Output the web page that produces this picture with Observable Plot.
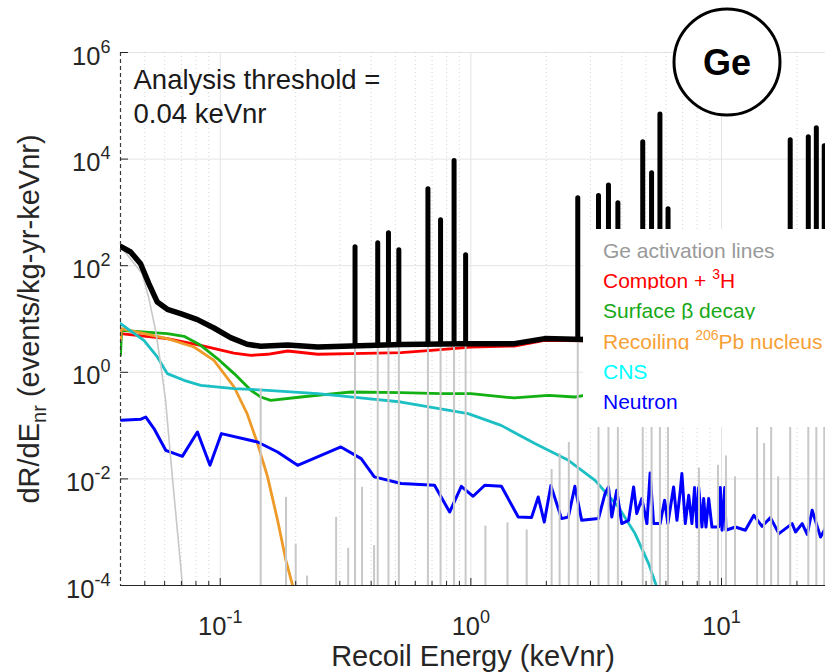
<!DOCTYPE html>
<html><head><meta charset="utf-8">
<script src="https://cdn.jsdelivr.net/npm/d3@7"></script>
<script src="https://cdn.jsdelivr.net/npm/@observablehq/plot@0.6"></script>
<style>
body{margin:0;background:#fff;}
#chart{position:relative;width:825px;height:672px;overflow:hidden;}
</style></head><body><div id="chart"></div>
<script>
// ---------- data (energies in keVnr, rates in events/kg-yr-keVnr) ----------
const totalE = [0.04,0.0439,0.0481,0.0519,0.0561,0.0615,0.0695,0.0811,0.0944,0.110,0.128,0.145,0.186,0.245,0.333,0.527,0.942,1.49,1.97,2.85,5.0,10,26];
const totalV = [230,181,109,46,20.8,15.2,12.6,9.75,6.78,4.48,3.35,3.07,3.25,2.98,3.11,3.31,3.45,3.45,4.29,4.11,4.1,4.0,4.0];

const comptonE = [0.04,0.0615,0.0836,0.1133,0.1325,0.1545,0.186,0.245,0.333,0.527,0.695,1.0,1.49,1.97,2.85,5,10,26];
const comptonV = [5.32,4.29,3.21,2.30,2.08,2.18,2.51,2.18,2.24,2.34,2.59,2.98,3.11,3.98,3.87,3.9,3.9,3.9];

const surfaceE = [0.04,0.0404,0.0615,0.0717,0.0836,0.0974,0.1136,0.1325,0.145,0.159,0.210,0.284,0.333,0.527,0.762,1.0,1.49,2.04,2.6,2.85];
const surfaceV = [2.1,6.14,5.32,4.74,3.21,1.81,0.945,0.46,0.344,0.298,0.344,0.398,0.427,0.416,0.398,0.398,0.33,0.37,0.344,0.37];

const pbE = [0.04,0.0403,0.0615,0.0786,0.0944,0.1136,0.128,0.1409,0.1545,0.1694,0.1828,0.1945,0.205];
const pbV = [4.0,6.6,4.29,2.98,1.68,0.53,0.168,0.046,0.0109,0.00167,2.97e-4,1e-4,3e-5];

const cnsE = [0.04,0.0496,0.0561,0.0615,0.0717,0.0836,0.1136,0.1545,0.245,0.388,0.527,0.975,1.32,1.80,2.45,3.13,3.88,4.52,5.12,5.47,5.7];
const cnsV = [8.2,3.98,1.94,0.945,0.708,0.57,0.494,0.46,0.398,0.321,0.277,0.168,0.101,0.046,0.0223,0.0094,0.00297,9.4e-4,2.58e-4,1.05e-4,4e-5];

const neutronE = [0.0403,0.0481,0.0504,0.0544,0.0606,0.0706,0.0811,0.0910,0.1011,0.1409,0.1694,0.2036,0.303,0.365,0.412,0.527,0.716,0.823,0.916,1.021,1.136,1.324,1.545,1.746,1.857,1.963,2.086,2.30,2.449,2.60,2.767,3.23,3.43,3.54,3.65,3.82,4.0,4.26,4.46,4.59,4.81,5.04,5.19,5.36,5.69,5.93,6.11,6.44,6.64,6.85,6.95,7.17,7.40,7.62,7.81,7.98,8.11,8.36,8.49,8.67,8.89,9.16,9.75,9.89,10.05,10.3,10.42,11.36,12.45,13.46,14.52,15.68,16.94,19.14,19.74,20.99,21.98,23.0,24.85,26.4];
const neutronV = [0.126,0.131,0.145,0.0879,0.0344,0.0265,0.0759,0.018,0.0708,0.0492,0.032,0.018,0.0397,0.024,0.0109,0.00817,0.00759,0.00239,0.00726,0.00472,0.00759,0.00726,0.00193,0.00188,0.00457,0.00155,0.00749,0.0018,0.00193,0.00726,0.00167,0.0018,0.0053,0.00705,0.00193,0.00611,0.00145,0.00167,0.00705,0.00223,0.00427,0.00145,0.0129,0.00145,0.00145,0.00397,0.00145,0.00705,0.00167,0.00611,0.0126,0.00145,0.00492,0.00145,0.00687,0.00125,0.00687,0.00125,0.00427,0.00125,0.00427,0.00125,0.00125,0.00687,0.00109,0.00687,0.00109,0.00125,0.00109,0.00207,0.00129,0.00188,0.00094,0.00145,0.00101,0.00145,0.00091,0.00258,0.00081,0.00135];

// low-energy continuum of the Ge activation lines
const grayTailE = [0.04,0.0488,0.0518,0.0552,0.0578,0.0605,0.0646,0.0707,0.075];
const grayTailV = [231,71,25.5,6.1,1.48,0.30,0.0094,1e-4,1e-5];

// Ge activation line energies and peak rates
const lineE = [0.145,0.183,0.200,0.222,0.290,0.324,0.345,0.368,0.411,0.425,0.469,0.516,0.674,0.757,0.857,0.953,1.143,1.40,1.67,2.10,2.26,2.46,2.67,3.23,3.54,3.86,4.85,5.26,5.68,6.12,8.13,9.68,10.42,11.32,13.87,14.79,15.78,16.83,18.8,22.2,23.9,25.7];
const lineV = [0.5,0.0045,6e-4,1.5e-4,0.0019,5e-4,221,0.007,5.6e-4,263,407,195,2710,711,9200,157,0.0013,0.0015,0.0011,0.015,0.03,0.048,1840,2040,3190,1480,20600,5400,69000,1140,0.016,0.018,0.027,0.011,3,0.046,2,0.011,22500,25700,38000,17400];

const xMajor = [0.1, 1, 10];
const xMinor = [0.05,0.06,0.07,0.08,0.09,0.2,0.3,0.4,0.5,0.6,0.7,0.8,0.9,2,3,4,5,6,7,8,9,20];
const yMajor = [1e-4, 1e-2, 1, 1e2, 1e4, 1e6];
const threshold = [0.04];

const legendLabels = ["Ge activation lines", "Compton + ^3H", "Surface β decay", "Recoiling ^206Pb nucleus", "CNS", "Neutron"];
const legendColors = ["#999999", "#ff0000", "#18a818", "#f7a035", "#00ffff", "#0000ff"];

// ---------- build ----------
const rows = (E, V) => E.map((e, i) => ({E: e, V: V[i]}));
function logInterp(xs, ys, x) {
  const lx = Math.log10(x);
  for (let i = 0; i < xs.length - 1; i++) {
    const a = Math.log10(xs[i]), b = Math.log10(xs[i + 1]);
    if (lx >= a && lx <= b) {
      const t = (lx - a) / (b - a);
      return Math.pow(10, Math.log10(ys[i]) * (1 - t) + Math.log10(ys[i + 1]) * t);
    }
  }
  return ys[ys.length - 1];
}
const spikes = rows(lineE, lineV);
const blackSpikes = spikes
  .map(d => ({...d, base: logInterp(totalE, totalV, d.E)}))
  .filter(d => d.V > d.base * 1.5);

const FONT = "'Liberation Sans', Arial, Helvetica, sans-serif";
const lw = 2.8;
const fmt = d => "10^" + Math.round(Math.log10(d));

const plot = Plot.plot({
  width: 825, height: 672,
  marginLeft: 120, marginRight: 0, marginTop: 52, marginBottom: 87,
  style: {fontFamily: FONT, background: "white", color: "#262626", overflow: "visible"},
  x: {type: "log", domain: [0.04, 26]},
  y: {type: "log", domain: [1e-4, 1e6]},
  marks: [
    Plot.ruleY(yMajor, {stroke: "#e4e4e4", strokeWidth: 1}),
    Plot.ruleX(xMajor, {stroke: "#e4e4e4", strokeWidth: 1}),
    Plot.ruleX(xMinor, {stroke: "#c8c8c8", strokeWidth: 0.8, strokeDasharray: "1,3"}),
    Plot.line(rows(comptonE, comptonV), {x: "E", y: "V", stroke: "#ff0000", strokeWidth: lw, clip: true}),
    Plot.line(rows(surfaceE, surfaceV), {x: "E", y: "V", stroke: "#12b012", strokeWidth: lw, clip: true}),
    Plot.line(rows(pbE, pbV), {x: "E", y: "V", stroke: "#ee9a28", strokeWidth: lw, clip: true}),
    Plot.line(rows(cnsE, cnsV), {x: "E", y: "V", stroke: "#1bbfc4", strokeWidth: lw, clip: true}),
    Plot.line(rows(neutronE, neutronV), {x: "E", y: "V", stroke: "#0000ff", strokeWidth: 3, clip: true}),
    Plot.line(rows(grayTailE, grayTailV), {x: "E", y: "V", stroke: "#c8c8c8", strokeWidth: 1.6, clip: true}),
    Plot.ruleX(spikes, {x: "E", y1: 1e-7, y2: "V", stroke: "#c8c8c8", strokeWidth: 2, clip: true}),
    Plot.ruleX(blackSpikes, {x: "E", y1: "base", y2: "V", stroke: "black", strokeWidth: 5, strokeLinecap: "round", clip: true}),
    Plot.line(rows(totalE, totalV), {x: "E", y: "V", stroke: "black", strokeWidth: 5.5, clip: true}),
    Plot.ruleX(threshold, {stroke: "#3a3a3a", strokeWidth: 1.2, strokeDasharray: "4,3"}),
    Plot.ruleY([1e-4], {stroke: "#262626", strokeWidth: 1}),
    // tick marks (inward)
    Plot.axisY(yMajor, {anchor: "left", tickSize: 8, dx: 8, fill: "none", label: null}),
    Plot.axisX(xMajor, {anchor: "bottom", tickSize: 7, dy: -7, fill: "none", label: null}),
    Plot.axisX(xMinor, {anchor: "bottom", tickSize: 4, dy: -4, fill: "none", label: null}),
    // tick labels
    Plot.axisY(yMajor, {anchor: "left", tickSize: 0, tickPadding: 10, dy: 4, stroke: "none", fontSize: 25.5,
      tickFormat: fmt,
      label: "dR/dE (events/kg-yr-keVnr)", labelAnchor: "center", labelArrow: "none", labelOffset: 102}),
    Plot.axisX(xMajor, {anchor: "bottom", tickSize: 0, tickPadding: 31, stroke: "none", fontSize: 25.5,
      tickFormat: fmt,
      label: "Recoil Energy (keVnr)", labelAnchor: "center", labelArrow: "none", labelOffset: 80}),
    Plot.text(["Analysis threshold =\n0.04 keVnr"], {frameAnchor: "top-left", dx: 13, dy: 12.5, lineAnchor: "top",
      textAnchor: "start", fontSize: 27.5, lineHeight: 1.24, fill: "#1a1a1a"})
  ]
});
document.getElementById("chart").appendChild(plot);

// ---------- post-processing: superscripts, subscripts, legend, badge ----------
const svg = d3.select(plot);
svg.selectAll('g[aria-label="x-axis tick label"] text, g[aria-label="y-axis tick label"] text').each(function() {
  const t = d3.select(this);
  const [b, e] = t.text().split("^");
  t.text(null);
  t.append("tspan").text(b);
  t.append("tspan").attr("dy", -12).attr("font-size", 18).text(e);
});
svg.selectAll('g[aria-label="y-axis label"] text, g[aria-label="x-axis label"] text').attr("font-size", 29);
svg.selectAll('g[aria-label="y-axis label"] text').each(function() {
  const t = d3.select(this);
  t.text(null);
  t.append("tspan").text("dR/dE");
  t.append("tspan").attr("dy", 7).attr("font-size", 20).text("nr");
  t.append("tspan").attr("dy", -7).text(" (events/kg-yr-keVnr)");
});

// legend box (opaque, on top of the plot)
const lg = svg.append("g").attr("font-family", FONT).attr("font-size", 21).attr("text-anchor", "start");
lg.append("rect").attr("x", 583).attr("y", 229).attr("width", 242).attr("height", 198).attr("fill", "white");
legendLabels.forEach((lab, i) => {
  const base = 258 + i * 30.2;
  lg.append("rect").attr("x", 583).attr("y", base - 29).attr("width", 242)
    .attr("height", i === legendLabels.length - 1 ? 40 : 33).attr("fill", "white");
  const t = lg.append("text").attr("x", 603).attr("y", base).attr("fill", legendColors[i]).attr("text-anchor", "start");
  const parts = lab.split("^");
  t.append("tspan").text(parts[0]);
  if (parts.length > 1) {
    const m = parts[1].match(/^(\d+)(.*)$/);
    t.append("tspan").attr("dy", -9).attr("font-size", 14).text(m[1]);
    t.append("tspan").attr("dy", 9).text(m[2]);
  }
});

// "Ge" badge
const badge = svg.append("g");
badge.append("circle").attr("cx", 727).attr("cy", 62).attr("r", 53).attr("fill", "white").attr("stroke", "black").attr("stroke-width", 3);
badge.append("text").attr("x", 727).attr("y", 75).attr("text-anchor", "middle").attr("font-family", FONT)
  .attr("font-weight", "bold").attr("font-size", 36).attr("fill", "black").text("Ge");
</script>
</body></html>
